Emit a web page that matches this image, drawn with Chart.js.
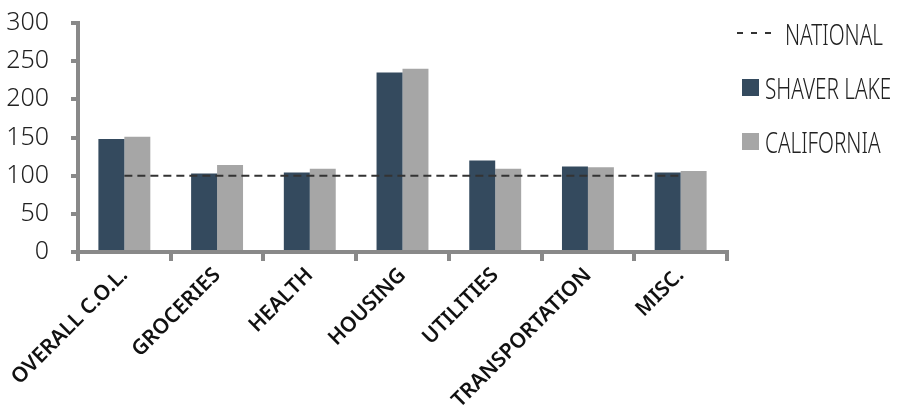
<!DOCTYPE html>
<html>
<head>
<meta charset="utf-8">
<script src="https://cdn.jsdelivr.net/npm/chart.js@4"></script>
<style>
  body { margin: 0; background: #fff; }
  #wrap { position: relative; width: 901px; height: 412px; }
  #legend {
    position: absolute; left: 735px; top: 6px;
    font-family: 'Noto Sans', sans-serif; font-weight: 300;
    font-size: 30px; color: #222; white-space: nowrap;
  }
  .item { height: 54px; display: flex; align-items: center; }
  .txt { display: inline-block; transform: scaleX(0.69); transform-origin: left center; }
  .sw { width: 17px; height: 17px; margin: 0 6px 0 7px; flex: none; }
  .dash { display: flex; gap: 8px; margin: 0 14px 0 2px; flex: none; }
  .dash i { display: block; width: 6px; height: 2px; background: #333; }
</style>
</head>
<body>
<div id="wrap">
  <canvas id="grafica" width="901" height="412"></canvas>
  <div id="legend">
    <div class="item"><span class="dash"><i></i><i></i><i></i></span><span class="txt">NATIONAL</span></div>
    <div class="item"><span class="sw" style="background:#344a5e"></span><span class="txt">SHAVER LAKE</span></div>
    <div class="item"><span class="sw" style="background:#a6a6a6"></span><span class="txt">CALIFORNIA</span></div>
  </div>
</div>
<script>
// Datos de la gráfica
const categories = ['OVERALL C.O.L.', 'GROCERIES', 'HEALTH', 'HOUSING', 'UTILITIES', 'TRANSPORTATION', 'MISC.'];
const shaverLake = [148, 103, 104, 235, 120, 112, 104];
const california = [151, 114, 109, 240, 109, 111, 106];
const national = [100, 100, 100, 100, 100, 100, 100];
const yTicks = [0, 50, 100, 150, 200, 250, 300];

const fuente = "'Noto Sans', sans-serif";
const gris = '#898989';

var ctx = document.getElementById('grafica').getContext('2d');

var myChart = new Chart(ctx, {
  data: {
    labels: categories,
    datasets: [{
      type: 'line',
      label: 'NATIONAL',
      data: national,
      borderColor: '#333',
      borderWidth: 2,
      borderDash: [8, 5],
      pointRadius: 0,
      order: 0
    }, {
      type: 'bar',
      label: 'SHAVER LAKE',
      data: shaverLake,
      backgroundColor: '#344a5e',
      categoryPercentage: 0.56,
      barPercentage: 1.0,
      order: 1
    }, {
      type: 'bar',
      label: 'CALIFORNIA',
      data: california,
      backgroundColor: '#a6a6a6',
      categoryPercentage: 0.56,
      barPercentage: 1.0,
      order: 1
    }]
  },
  options: {
    responsive: false,
    animation: false,
    layout: { padding: { top: 23, right: 174, left: 0, bottom: 0 } },
    plugins: {
      legend: { display: false },
      tooltip: { enabled: false }
    },
    scales: {
      x: {
        grid: { drawOnChartArea: false, drawTicks: true, tickLength: 9, color: gris, lineWidth: 4 },
        border: { color: gris, width: 4 },
        ticks: {
          minRotation: 45, maxRotation: 45, padding: 2, color: '#111', autoSkip: false,
          font: { family: fuente, size: 21, weight: '600' }
        },
        afterFit: function (scale) { scale.height = 160; }
      },
      y: {
        min: 0, max: 300,
        afterBuildTicks: function (scale) { scale.ticks = yTicks.map(v => ({ value: v })); },
        grid: { drawOnChartArea: false, drawTicks: true, tickLength: 7, color: gris, lineWidth: 4 },
        border: { color: gris, width: 4 },
        ticks: {
          padding: 22, color: '#222', autoSkip: false,
          font: { family: fuente, size: 25, weight: '300' }
        },
        afterFit: function (scale) {
          scale.width = 78;
          scale.paddingTop = 0;
        }
      }
    }
  }
});
</script>
</body>
</html>
